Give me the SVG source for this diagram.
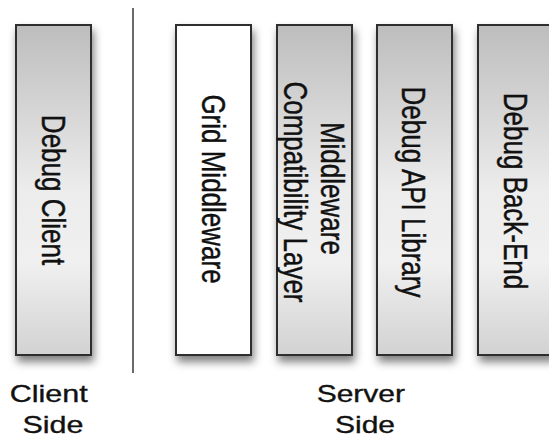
<svg xmlns="http://www.w3.org/2000/svg" width="549" height="438" viewBox="0 0 549 438">
  <defs>
    <linearGradient id="layerFill" x1="0" y1="0" x2="0" y2="1">
      <stop offset="0" stop-color="#bdbdbd"/>
      <stop offset="0.5" stop-color="#ececec"/>
      <stop offset="0.72" stop-color="#f0f0f0"/>
      <stop offset="1" stop-color="#d2d2d2"/>
    </linearGradient>
    <filter id="shadow" x="-30%" y="-10%" width="160%" height="125%">
      <feDropShadow dx="2" dy="6" stdDeviation="4.5" flood-color="#000" flood-opacity="0.5"/>
    </filter>
    <style>
      .layer { stroke: #2e2e2e; stroke-width: 2; filter: url(#shadow); }
      .grey { fill: url(#layerFill); }
      .plain { fill: #ffffff; }
      .vlabel { font-family: "Liberation Sans", Arial, sans-serif; font-size: 26px; fill: #111; stroke: #111; stroke-width: 0.35; text-anchor: middle; }
      .side { font-family: "Liberation Sans", Arial, sans-serif; font-size: 24px; fill: #111; stroke: #111; stroke-width: 0.35; text-anchor: middle; }
      .divider { stroke: #6a6a6a; stroke-width: 2; fill: none; }
    </style>
  </defs>
  <rect width="549" height="438" fill="#ffffff"/>

  <g id="connectors">
    <line class="divider" x1="133" y1="8" x2="133" y2="373"/>
  </g>

  <g id="debug-client">
    <rect class="layer grey" x="16" y="25" width="75" height="330"/>
    <text class="vlabel" transform="translate(54,190) scale(1.25,1) rotate(90)" x="0" y="9.3">Debug Client</text>
  </g>

  <g id="grid-middleware">
    <rect class="layer plain" x="176" y="25" width="75" height="330"/>
    <text class="vlabel" transform="translate(214,189) scale(1.25,1) rotate(90)" x="0" y="9.3">Grid Middleware</text>
  </g>

  <g id="middleware-compatibility-layer">
    <rect class="layer grey" x="277" y="25" width="75" height="330"/>
    <text class="vlabel" transform="translate(314,192) scale(1.25,1) rotate(90)" x="0">
      <tspan x="0" y="-5.3">Middleware</tspan>
      <tspan x="0" y="23.9">Compatibility Layer</tspan>
    </text>
  </g>

  <g id="debug-api-library">
    <rect class="layer grey" x="377" y="25" width="75" height="330"/>
    <text class="vlabel" transform="translate(414,192) scale(1.25,1) rotate(90)" x="0" y="9.3">Debug API Library</text>
  </g>

  <g id="debug-back-end">
    <rect class="layer grey" x="478" y="25" width="75" height="330"/>
    <text class="vlabel" transform="translate(516,191) scale(1.25,1) rotate(90)" x="0" y="9.3">Debug Back-End</text>
  </g>

  <g id="client-side-label">
    <text class="side" transform="translate(53,0) scale(1.27,1)">
      <tspan x="0" y="402">Client</tspan>
      <tspan x="0" y="433">Side</tspan>
    </text>
  </g>

  <g id="server-side-label">
    <text class="side" transform="translate(365,0) scale(1.25,1)">
      <tspan x="0" y="402">Server</tspan>
      <tspan x="0" y="433">Side</tspan>
    </text>
  </g>
</svg>
